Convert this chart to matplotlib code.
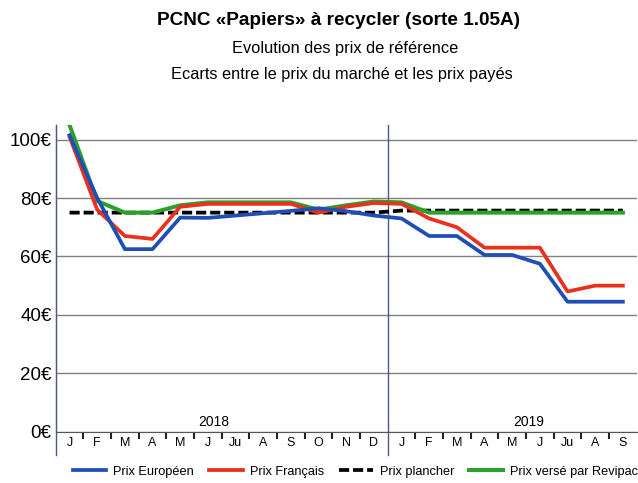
import numpy as np
import matplotlib.pyplot as plt

plt.rcParams['font.family'] = ['Liberation Sans Narrow', 'Liberation Sans', 'DejaVu Sans']

months = ["J", "F", "M", "A", "M", "J", "Ju", "A", "S", "O", "N", "D",
          "J", "F", "M", "A", "M", "J", "Ju", "A", "S"]
years = ["2018", "2019"]

prix_europeen = [101.5, 80, 62.5, 62.5, 73.3, 73.2, 74, 74.8, 75.6, 76.5, 75.5, 74,
                 73, 67, 67, 60.5, 60.5, 57.5, 44.5, 44.5, 44.5]
prix_francais = [101, 76, 67, 66, 77, 78, 78, 78, 78, 75, 77, 78.3,
                 78, 73, 70, 63, 63, 63, 48, 50, 50]
prix_plancher = [75, 75, 75, 75, 75, 75, 75, 75, 75, 75, 75, 75,
                 75.7, 75.7, 75.7, 75.7, 75.7, 75.7, 75.7, 75.7, 75.7]
prix_revipac = [105, 79, 75, 75, 77.5, 78.5, 78.5, 78.5, 78.5, 76, 77.5, 78.8,
                78.5, 75, 75, 75, 75, 75, 75, 75, 75]

x = np.arange(len(months))

fig = plt.figure(figsize=(6.38, 4.83), dpi=100)
ax = fig.add_axes([55.7 / 638, 51.3 / 483, 581 / 638, 306.7 / 483])

ax.plot(x, prix_plancher, color="black", lw=2.7, ls=(0, (2.7, 1.05)), label="Prix plancher", zorder=3)
ax.plot(x, prix_revipac, color="#2ca02c", lw=2.9, label="Prix versé par Revipac", zorder=4)
ax.plot(x, prix_francais, color="#e8321e", lw=2.7, label="Prix Français", zorder=5)
ax.plot(x, prix_europeen, color="#1f4fb4", lw=2.7, label="Prix Européen", zorder=6)

ax.set_xlim(-0.5, len(months) - 0.5)
ax.set_ylim(0, 105)

ax.set_yticks(range(0, 101, 20))
ax.set_yticklabels([f"{v}€" for v in range(0, 101, 20)], fontsize=13.5)
ax.tick_params(axis="y", length=0, pad=3)
ax.yaxis.grid(True, color="#808080", lw=1)
ax.set_axisbelow(True)

ax.set_xticks(x)
ax.set_xticklabels(months, fontsize=9)
ax.set_xticks([i + 0.5 for i in range(len(months) - 1) if i != 11], minor=True)
ax.tick_params(axis="x", which="major", length=0, pad=4)
ax.tick_params(axis="x", which="minor", length=5, width=1.5, color="#222222")

for s in ["top", "right"]:
    ax.spines[s].set_visible(False)
ax.spines["left"].set_color("#4a5a80")
ax.spines["bottom"].set_color("#555555")

# year separators reaching below the axis
ax.plot([-0.5, -0.5], [-0.076, 1.0], transform=ax.get_xaxis_transform(),
        color="#4a5a80", lw=1, clip_on=False)
ax.plot([11.5, 11.5], [-0.076, 1.0], transform=ax.get_xaxis_transform(),
        color="#4a5a80", lw=1, clip_on=False)

ax.text(5.2, 3.3, years[0], ha="center", va="center", fontsize=10)
ax.text(16.6, 3.3, years[1], ha="center", va="center", fontsize=10)

fig.text(0.531, 0.958, "PCNC «Papiers» à recycler (sorte 1.05A)", ha="center", va="center",
         fontsize=13.7, fontweight="bold")
fig.text(0.541, 0.900, "Evolution des prix de référence", ha="center", va="center", fontsize=11.8)
fig.text(0.536, 0.845, "Ecarts entre le prix du marché et les prix payés", ha="center", va="center",
         fontsize=11.8)

handles, labels = ax.get_legend_handles_labels()
order = [3, 2, 0, 1]
fig.legend([handles[i] for i in order], [labels[i] for i in order], loc="center",
           bbox_to_anchor=(0.557, 0.023), ncol=4, frameon=False, fontsize=9.2,
           handlelength=2.65, columnspacing=1.17, handletextpad=0.55)

fig.savefig("out.png", dpi=100)
